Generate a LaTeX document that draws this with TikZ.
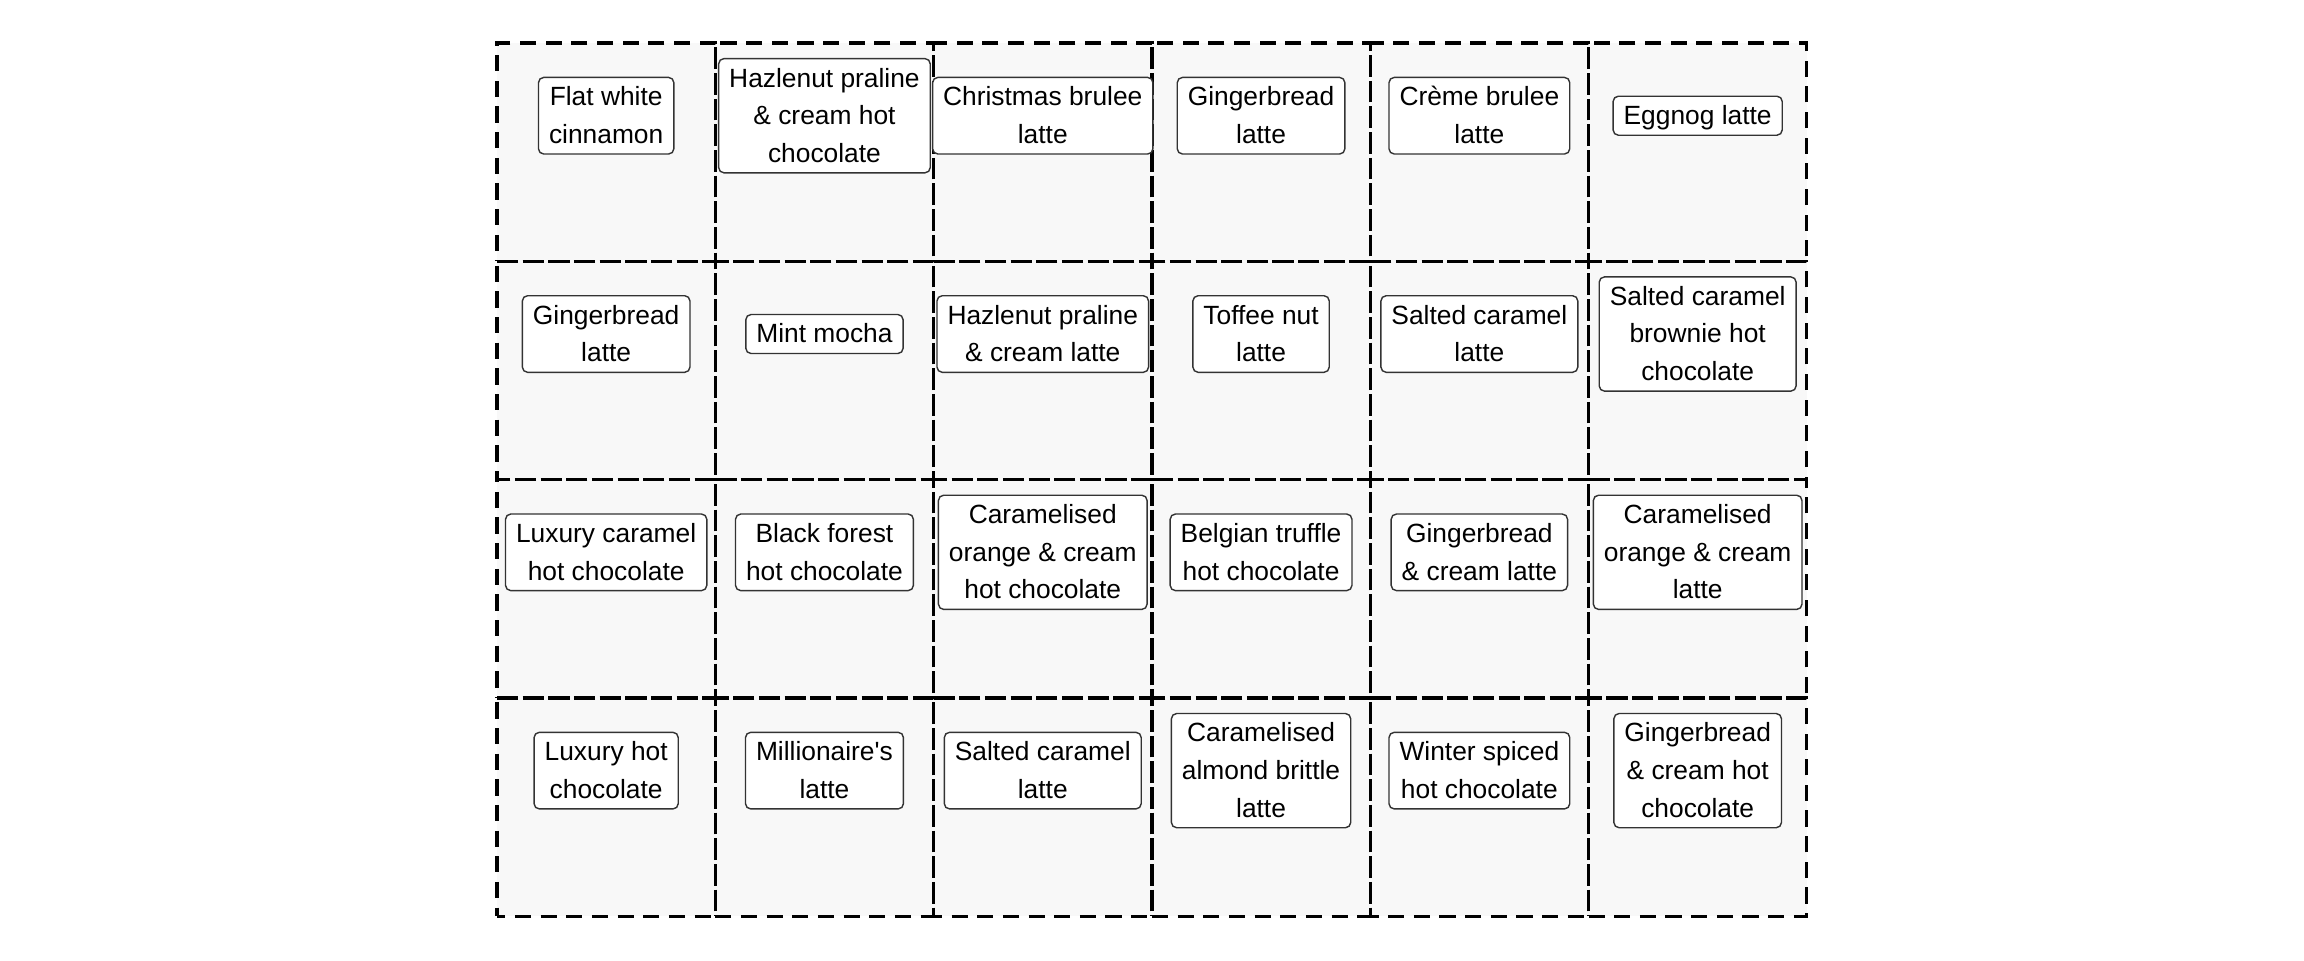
\documentclass[tikz,border=0pt]{standalone}
\usepackage{fontspec}
\setmainfont{Liberation Sans}
\usetikzlibrary{backgrounds}
\definecolor{cellgray}{RGB}{248,248,248}
\newcommand\ls{\rule[-2.8pt]{0pt}{10.7pt}}
\begin{document}
\begin{tikzpicture}[
  cell/.style={draw,line width=0.9pt,dash pattern=on 4.6pt off 2.7pt,minimum size=2.183cm,inner sep=0pt,outer sep=0pt},
  cellb/.style={cell,dash phase=2.2pt},
  item/.style={draw=black!80,fill=white,line width=0.4pt,rounded corners=1.5pt,align=center,
    font=\fontsize{7.5}{10.7}\selectfont,inner xsep=3pt,inner ysep=0.2pt,yshift=-7.27mm}]
            \useasboundingbox (0,0) rectangle (23.04,-9.6);

            \node[cell] (c11) at (6.0615,-1.5215) {};
            \node[cellb] (c12) at (8.2445,-1.5215) {};
            \node[cell] (c13) at (10.4275,-1.5215) {};
            \node[cellb] (c14) at (12.6105,-1.5215) {};
            \node[cell] (c15) at (14.7935,-1.5215) {};
            \node[cellb] (c16) at (16.9765,-1.5215) {};

            \node[cellb] (c21) at (6.0615,-3.7045) {};
            \node[cell] (c22) at (8.2445,-3.7045) {};
            \node[cellb] (c23) at (10.4275,-3.7045) {};
            \node[cell] (c24) at (12.6105,-3.7045) {};
            \node[cellb] (c25) at (14.7935,-3.7045) {};
            \node[cell] (c26) at (16.9765,-3.7045) {};

            \node[cell] (c31) at (6.0615,-5.8875) {};
            \node[cellb] (c32) at (8.2445,-5.8875) {};
            \node[cell] (c33) at (10.4275,-5.8875) {};
            \node[cellb] (c34) at (12.6105,-5.8875) {};
            \node[cell] (c35) at (14.7935,-5.8875) {};
            \node[cellb] (c36) at (16.9765,-5.8875) {};

            \node[cellb] (c41) at (6.0615,-8.0705) {};
            \node[cell] (c42) at (8.2445,-8.0705) {};
            \node[cellb] (c43) at (10.4275,-8.0705) {};
            \node[cell] (c44) at (12.6105,-8.0705) {};
            \node[cellb] (c45) at (14.7935,-8.0705) {};
            \node[cell] (c46) at (16.9765,-8.0705) {};

            \begin{scope}[on background layer]
             \fill[cellgray] (c11.north west) rectangle (c46.south east);
            \end{scope}


            \node[item] (d11) at (c11.north) {\ls Flat white\\cinnamon\ls};
            \node[item] (d12) at (c12.north) {\ls Hazlenut praline\\\& cream hot\\chocolate\ls};
            \node[item] (d13) at (c13.north) {\ls Christmas brulee\\latte\ls};
            \node[item] (d14) at (c14.north) {\ls Gingerbread\\latte\ls};
            \node[item] (d15) at (c15.north) {\ls Crème brulee\\latte\ls};
            \node[item] (d16) at (c16.north) {\ls Eggnog latte\ls};

            \node[item] (d21) at (c21.north) {\ls Gingerbread\\latte\ls};
            \node[item] (d22) at (c22.north) {\ls Mint mocha\ls};
            \node[item] (d23) at (c23.north) {\ls Hazlenut praline\\\& cream latte\ls};
            \node[item] (d24) at (c24.north) {\ls Toffee nut\\latte\ls};
            \node[item] (d25) at (c25.north) {\ls Salted caramel\\latte\ls};
            \node[item] (d26) at (c26.north) {\ls Salted caramel\\brownie hot\\chocolate\ls};

            \node[item] (d31) at (c31.north) {\ls Luxury caramel\\hot chocolate\ls};
            \node[item] (d32) at (c32.north) {\ls Black forest\\hot chocolate\ls};
            \node[item] (d33) at (c33.north) {\ls Caramelised\\orange \& cream\\hot chocolate\ls};
            \node[item] (d34) at (c34.north) {\ls Belgian truffle\\hot chocolate\ls};
            \node[item] (d35) at (c35.north) {\ls Gingerbread\\\& cream latte\ls};
            \node[item] (d36) at (c36.north) {\ls Caramelised\\orange \& cream\\latte\ls};

            \node[item] (d41) at (c41.north) {\ls Luxury hot\\chocolate\ls};
            \node[item] (d42) at (c42.north) {\ls Millionaire\textquotesingle s\\latte\ls};
            \node[item] (d43) at (c43.north) {\ls Salted caramel\\latte\ls};
            \node[item] (d44) at (c44.north) {\ls Caramelised\\almond brittle\\latte\ls};
            \node[item] (d45) at (c45.north) {\ls Winter spiced\\hot chocolate\ls};
            \node[item] (d46) at (c46.north) {\ls Gingerbread\\\& cream hot\\chocolate\ls};
           \end{tikzpicture}
\end{document}
